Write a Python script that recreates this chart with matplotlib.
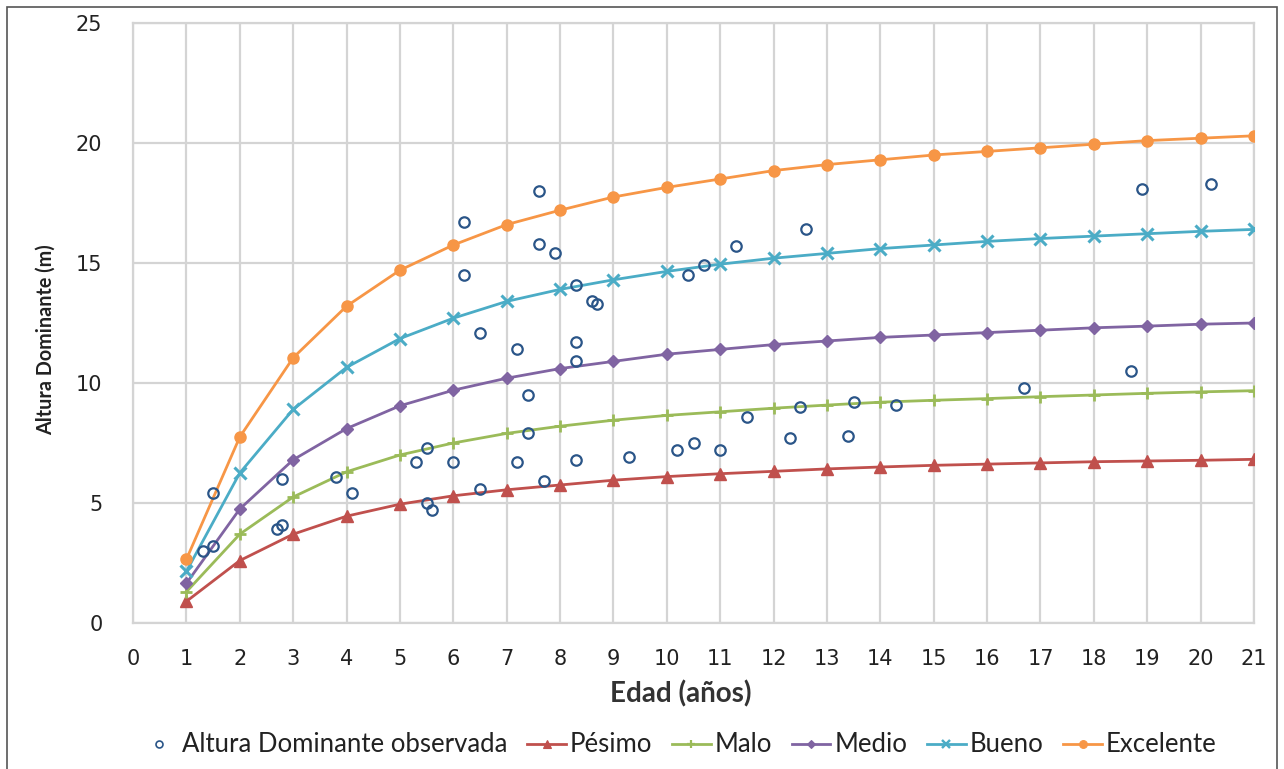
import matplotlib
matplotlib.use("Agg")
import matplotlib.pyplot as plt
from matplotlib.patches import Rectangle
from matplotlib.lines import Line2D

# ---- data ----
edad = list(range(1, 22))
pesimo = [0.9, 2.6, 3.7, 4.45, 4.95, 5.3, 5.55, 5.75, 5.95, 6.1, 6.22, 6.32, 6.42, 6.5, 6.57, 6.62, 6.67, 6.72, 6.75, 6.78, 6.82]
malo = [1.3, 3.7, 5.25, 6.3, 7.0, 7.5, 7.9, 8.2, 8.45, 8.65, 8.8, 8.95, 9.08, 9.2, 9.28, 9.35, 9.43, 9.5, 9.57, 9.63, 9.68]
medio = [1.65, 4.75, 6.8, 8.1, 9.05, 9.7, 10.2, 10.6, 10.9, 11.2, 11.4, 11.6, 11.75, 11.9, 12.0, 12.1, 12.2, 12.3, 12.37, 12.45, 12.5]
bueno = [2.15, 6.25, 8.9, 10.65, 11.85, 12.7, 13.4, 13.9, 14.3, 14.65, 14.95, 15.2, 15.4, 15.6, 15.75, 15.9, 16.02, 16.12, 16.22, 16.32, 16.4]
excelente = [2.65, 7.75, 11.05, 13.2, 14.7, 15.75, 16.6, 17.2, 17.75, 18.15, 18.5, 18.85, 19.1, 19.3, 19.5, 19.65, 19.8, 19.95, 20.1, 20.2, 20.3]

obs_edad = [1.31, 1.5, 1.5, 2.7, 2.8, 2.8, 3.8, 4.1, 5.3, 5.5, 6.0, 5.5, 5.6, 6.5, 6.5, 7.2, 7.4, 7.4, 7.2, 7.7,
            8.3, 8.3, 8.3, 9.3, 6.2, 6.2, 7.6, 7.6, 7.9, 8.3, 8.6, 8.7, 10.4, 10.7, 11.3, 12.6, 18.9, 20.2, 18.7, 16.7,
            11.5, 12.5, 13.5, 14.3, 12.3, 13.4, 10.2, 10.5, 11.0]
obs_altura = [3.0, 3.2, 5.4, 3.9, 4.1, 6.0, 6.1, 5.4, 6.7, 7.3, 6.7, 5.0, 4.7, 5.6, 12.1, 11.4, 9.5, 7.9, 6.7, 5.9,
              11.7, 10.9, 6.8, 6.9, 16.7, 14.5, 18.0, 15.8, 15.4, 14.1, 13.4, 13.3, 14.5, 14.9, 15.7, 16.4, 18.1, 18.3, 10.5, 9.8,
              8.6, 9.0, 9.2, 9.1, 7.7, 7.8, 7.2, 7.5, 7.2]

x_ticks = list(range(0, 22))
y_ticks = [0, 5, 10, 15, 20, 25]

series_names = ["Pésimo", "Malo", "Medio", "Bueno", "Excelente"]
obs_name = "Altura Dominante observada"

# ---- styling ----
W, H = 1284, 769
fig = plt.figure(figsize=(W / 100, H / 100), dpi=100)
ax = fig.add_axes([133 / W, 1 - 623 / H, (1254 - 133) / W, 600 / H])

colors = ["#c0504d", "#9bbb59", "#8064a2", "#4bacc6", "#f79646"]
markers = ["^", "+", "D", "x", "o"]
msizes = [8, 9, 6, 9, 8]
mews = [1, 2, 1, 2.2, 1]
data = [pesimo, malo, medio, bueno, excelente]

ax.plot(obs_edad, obs_altura, linestyle="none", marker="o", markersize=7.5,
        markerfacecolor="none", markeredgecolor="#2a5588", markeredgewidth=1.6,
        label=obs_name, zorder=4)
for name, vals, c, m, ms, mew in zip(series_names, data, colors, markers, msizes, mews):
    ax.plot(edad, vals, color=c, lw=2.0, marker=m, markersize=ms,
            markerfacecolor=c, markeredgecolor=c, markeredgewidth=mew,
            label=name, zorder=3)

ax.set_xlim(0, 21)
ax.set_ylim(0, 25)
ax.set_xticks(x_ticks)
ax.set_yticks(y_ticks)
ax.grid(True, color="#d4d4d4", lw=1.6, zorder=0)
ax.set_axisbelow(True)
for s in ax.spines.values():
    s.set_color("#d4d4d4")
    s.set_linewidth(1.6)
ax.tick_params(length=0, labelsize=15, colors="#222222")
ax.tick_params(axis="x", pad=19)
ax.tick_params(axis="y", pad=22)

txtfont = ["Lato", "DejaVu Sans"]
ax.set_xlabel("Edad (años)", fontsize=20, fontweight="bold", color="#333333", family=txtfont)
ax.xaxis.set_label_coords((681 - 133) / 1121, -(680 - 623) / 600)
ax.set_ylabel("Altura Dominante (m)", fontsize=14.2, fontweight="bold", color="#222222", family=txtfont)
ax.yaxis.set_label_coords(-(133 - 56) / 1121, (623 - 340) / 600)

leg_handles = [Line2D([], [], linestyle="none", marker="o", markersize=5, markerfacecolor="none",
                      markeredgecolor="#2a5588", markeredgewidth=1.2)]
for c, m, ms, mew in zip(colors, markers, msizes, mews):
    leg_handles.append(Line2D([], [], color=c, lw=2.0, marker=m, markersize=ms * 0.7,
                              markerfacecolor=c, markeredgecolor=c, markeredgewidth=mew * 0.8))
fig.legend(leg_handles, [obs_name] + series_names, loc="center",
           bbox_to_anchor=(678 / W, 1 - 745 / H), ncol=6, frameon=False,
           prop={"family": txtfont, "size": 18.5}, handlelength=1.5, handletextpad=0.15,
           columnspacing=0.78, labelcolor="#222222")

fig.add_artist(Rectangle((7 / W, -0.02), (1277 - 7) / W, 1.02 - 7 / H, transform=fig.transFigure,
                         fill=False, edgecolor="#555555", lw=1.2))

fig.savefig("out.png", dpi=100, facecolor="white")
